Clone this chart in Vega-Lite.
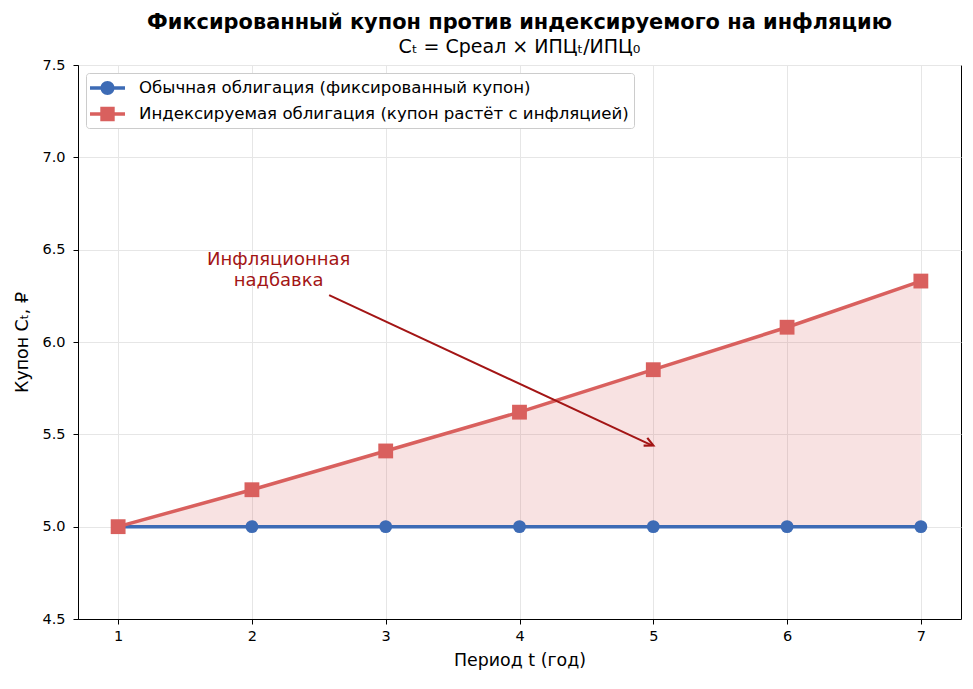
{
  "$schema": "https://vega.github.io/schema/vega-lite/v6.json",
  "width": 883,
  "height": 554,
  "autosize": {"type": "none"},
  "padding": {"left": 78, "top": 65, "right": 12, "bottom": 70},
  "background": "white",
  "config": {
    "font": "DejaVu Sans",
    "view": {"stroke": "black", "strokeWidth": 1},
    "axis": {
      "labelFont": "DejaVu Sans",
      "titleFont": "DejaVu Sans",
      "labelFontSize": 14.5,
      "titleFontSize": 17.4,
      "titleFontWeight": "normal",
      "labelColor": "black",
      "titleColor": "black",
      "tickColor": "black",
      "domainColor": "black",
      "tickSize": 5,
      "grid": true,
      "gridColor": "#e6e6e6",
      "gridWidth": 1
    }
  },
  "title": {
    "text": "Фиксированный купон против индексируемого на инфляцию",
    "subtitle": "Cₜ = Cреал × ИПЦₜ/ИПЦ₀",
    "font": "DejaVu Sans",
    "subtitleFont": "DejaVu Sans",
    "fontSize": 20.9,
    "fontWeight": "bold",
    "subtitleFontSize": 19,
    "color": "black",
    "subtitleColor": "black",
    "anchor": "middle",
    "frame": "group",
    "offset": 0,
    "subtitlePadding": 5
  },
  "datasets": {
    "coupons": [
      {"t": 1, "kind": "fixed", "series": "Обычная облигация (фиксированный купон)", "value": 5.0},
      {"t": 2, "kind": "fixed", "series": "Обычная облигация (фиксированный купон)", "value": 5.0},
      {"t": 3, "kind": "fixed", "series": "Обычная облигация (фиксированный купон)", "value": 5.0},
      {"t": 4, "kind": "fixed", "series": "Обычная облигация (фиксированный купон)", "value": 5.0},
      {"t": 5, "kind": "fixed", "series": "Обычная облигация (фиксированный купон)", "value": 5.0},
      {"t": 6, "kind": "fixed", "series": "Обычная облигация (фиксированный купон)", "value": 5.0},
      {"t": 7, "kind": "fixed", "series": "Обычная облигация (фиксированный купон)", "value": 5.0},
      {"t": 1, "kind": "indexed", "series": "Индексируемая облигация (купон растёт с инфляцией)", "value": 5.0},
      {"t": 2, "kind": "indexed", "series": "Индексируемая облигация (купон растёт с инфляцией)", "value": 5.2},
      {"t": 3, "kind": "indexed", "series": "Индексируемая облигация (купон растёт с инфляцией)", "value": 5.41},
      {"t": 4, "kind": "indexed", "series": "Индексируемая облигация (купон растёт с инфляцией)", "value": 5.62},
      {"t": 5, "kind": "indexed", "series": "Индексируемая облигация (купон растёт с инфляцией)", "value": 5.85},
      {"t": 6, "kind": "indexed", "series": "Индексируемая облигация (купон растёт с инфляцией)", "value": 6.08},
      {"t": 7, "kind": "indexed", "series": "Индексируемая облигация (купон растёт с инфляцией)", "value": 6.33}
    ],
    "label": [{"t": 2.2, "value": 6.444, "text": ["Инфляционная", "надбавка"]}],
    "arrow": [{"t": 2.577, "value": 6.254, "t2": 4.99, "value2": 5.44}],
    "head": [{"t": 5.0, "value": 5.44}]
  },
  "resolve": {"scale": {"shape": "independent", "size": "independent", "color": "independent"}},
  "layer": [
    {
      "data": {"name": "coupons"},
      "transform": [{"filter": "datum.kind === 'indexed'"}],
      "mark": {"type": "area", "color": "#d9605e", "opacity": 0.18},
      "encoding": {
        "x": {
          "field": "t", "type": "quantitative",
          "scale": {"domain": [0.7, 7.3], "nice": false, "zero": false},
          "axis": {"values": [1, 2, 3, 4, 5, 6, 7], "title": "Период t (год)", "format": "d", "labelPadding": 5, "titlePadding": 9}
        },
        "y": {
          "field": "value", "type": "quantitative",
          "scale": {"domain": [4.5, 7.5], "nice": false, "zero": false},
          "axis": {"values": [4.5, 5.0, 5.5, 6.0, 6.5, 7.0, 7.5], "format": ".1f", "title": "Купон Cₜ, ₽", "labelPadding": 8, "titlePadding": 10}
        },
        "y2": {"datum": 5}
      }
    },
    {
      "data": {"name": "coupons"},
      "mark": {"type": "line", "strokeWidth": 3.5},
      "encoding": {
        "x": {"field": "t", "type": "quantitative"},
        "y": {"field": "value", "type": "quantitative"},
        "color": {
          "field": "series", "type": "nominal",
          "scale": {
            "domain": ["Обычная облигация (фиксированный купон)", "Индексируемая облигация (купон растёт с инфляцией)"],
            "range": ["#3d6bb5", "#d9605e"]
          },
          "legend": null
        }
      }
    },
    {
      "data": {"name": "coupons"},
      "mark": {"type": "point", "filled": true, "opacity": 1, "strokeWidth": 0},
      "encoding": {
        "x": {"field": "t", "type": "quantitative"},
        "y": {"field": "value", "type": "quantitative"},
        "color": {
          "field": "series", "type": "nominal",
          "scale": {
            "domain": ["Обычная облигация (фиксированный купон)", "Индексируемая облигация (купон растёт с инфляцией)"],
            "range": ["#3d6bb5", "#d9605e"]
          },
          "legend": null
        },
        "shape": {
          "field": "series", "type": "nominal",
          "scale": {
            "domain": ["Обычная облигация (фиксированный купон)", "Индексируемая облигация (купон растёт с инфляцией)"],
            "range": ["circle", "square"]
          },
          "legend": null
        },
        "size": {
          "field": "series", "type": "nominal",
          "scale": {
            "domain": ["Обычная облигация (фиксированный купон)", "Индексируемая облигация (купон растёт с инфляцией)"],
            "range": [165, 220]
          },
          "legend": null
        }
      }
    },
    {
      "data": {"name": "arrow"},
      "mark": {"type": "rule", "color": "#a31515", "strokeWidth": 2},
      "encoding": {
        "x": {"field": "t", "type": "quantitative"},
        "y": {"field": "value", "type": "quantitative"},
        "x2": {"field": "t2"},
        "y2": {"field": "value2"}
      }
    },
    {
      "data": {"name": "head"},
      "mark": {"type": "point", "shape": "M-1,-0.5L0,0L-1,0.5", "filled": false, "color": "#a31515", "strokeWidth": 2.2, "size": 300, "angle": 25.2, "opacity": 1},
      "encoding": {
        "x": {"field": "t", "type": "quantitative"},
        "y": {"field": "value", "type": "quantitative"}
      }
    },
    {
      "data": {"name": "label"},
      "mark": {"type": "text", "color": "#a31515", "fontSize": 18, "font": "DejaVu Sans", "align": "center", "baseline": "middle", "lineHeight": 21},
      "encoding": {
        "x": {"field": "t", "type": "quantitative"},
        "y": {"field": "value", "type": "quantitative"},
        "text": {"field": "text"}
      }
    },
    {
      "data": {"name": "coupons"},
      "transform": [{"filter": "false"}],
      "mark": {"type": "point", "filled": true, "opacity": 1, "strokeWidth": 0},
      "encoding": {
        "x": {"field": "t", "type": "quantitative"},
        "y": {"field": "value", "type": "quantitative"},
        "color": {
          "field": "series", "type": "nominal",
          "scale": {
            "domain": ["Обычная облигация (фиксированный купон)", "Индексируемая облигация (купон растёт с инфляцией)"],
            "range": ["#3d6bb5", "#d9605e"]
          },
          "legend": {
            "title": null, "orient": "top-left", "offset": 8, "padding": 5,
            "fillColor": "white", "strokeColor": "#cccccc", "cornerRadius": 3,
            "labelFont": "DejaVu Sans", "labelFontSize": 16.6, "labelColor": "black", "labelLimit": 0,
            "labelOffset": 28, "symbolSize": 400, "symbolStrokeWidth": 0, "symbolOpacity": 1, "rowPadding": 7,
            "symbolFillColor": "#888888"
          }
        },
        "shape": {
          "field": "series", "type": "nominal",
          "scale": {
            "domain": ["Обычная облигация (фиксированный купон)", "Индексируемая облигация (купон растёт с инфляцией)"],
            "range": [
              "M-1.1,-0.17H-0.03V0.17H-1.1Z M1.33,-0.17H2.4V0.17H1.33Z M0.65,-0.7A0.7,0.7 0 1,1 0.65,0.7A0.7,0.7 0 1,1 0.65,-0.7Z",
              "M-1.1,-0.17H-0.07V0.17H-1.1Z M1.37,-0.17H2.4V0.17H1.37Z M-0.07,-0.72H1.37V0.72H-0.07Z"
            ]
          },
          "legend": {
            "title": null, "orient": "top-left", "offset": 8, "padding": 5,
            "fillColor": "white", "strokeColor": "#cccccc", "cornerRadius": 3,
            "labelFont": "DejaVu Sans", "labelFontSize": 16.6, "labelColor": "black", "labelLimit": 0,
            "labelOffset": 28, "symbolSize": 400, "symbolStrokeWidth": 0, "symbolOpacity": 1, "rowPadding": 7,
            "symbolFillColor": "#888888"
          }
        }
      }
    }
  ]
}
